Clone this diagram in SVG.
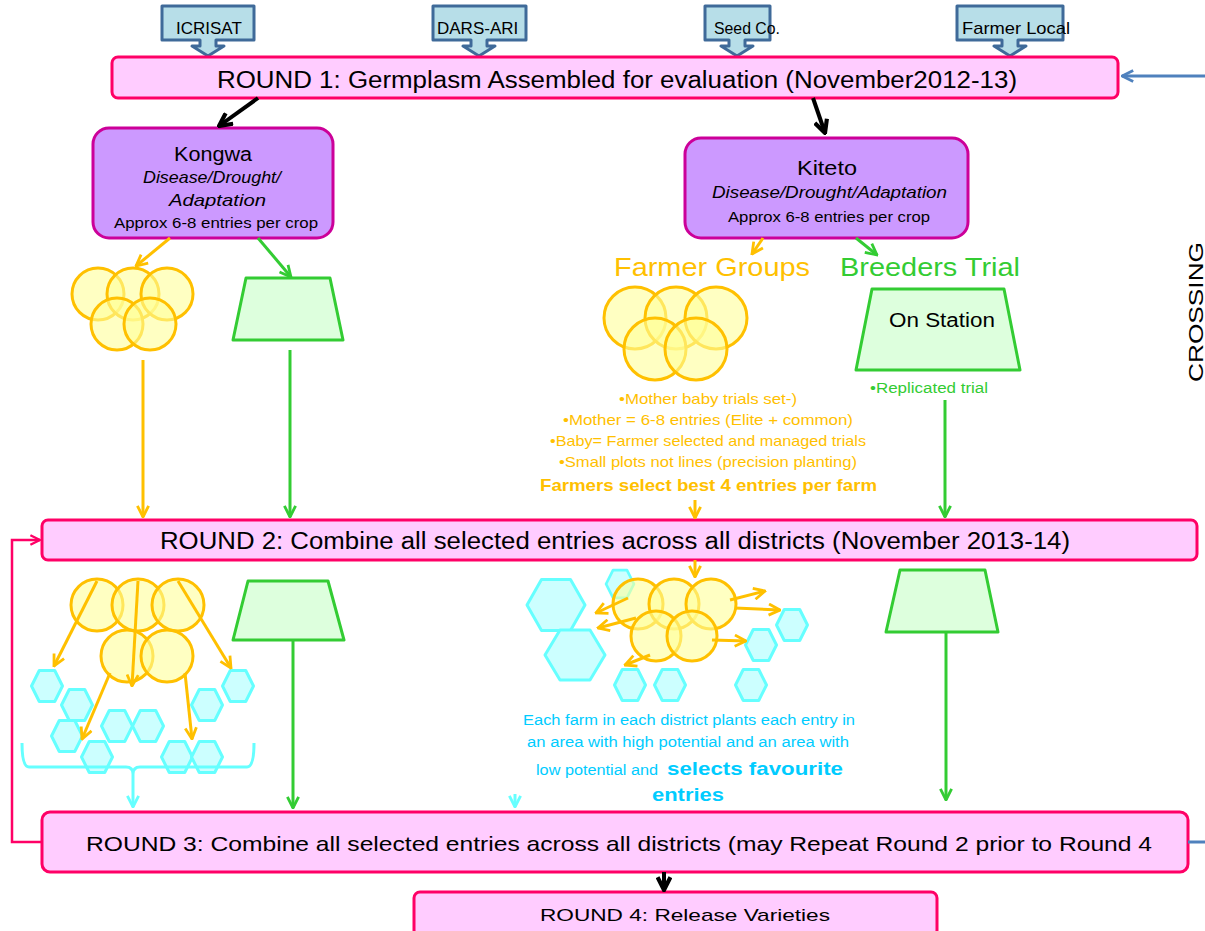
<svg xmlns="http://www.w3.org/2000/svg" xmlns:xlink="http://www.w3.org/1999/xlink" width="1205" height="931" viewBox="0 0 1205 931">
<style>
text{font-family:"Liberation Sans",Arial,sans-serif;}
.bar{fill:#FFCCFF;stroke:#FF0066;stroke-width:3;}
.site{fill:#CC99FF;stroke:#CC0099;stroke-width:3;}
.src{fill:#B7DEE8;stroke:#3F6A99;stroke-width:3;stroke-linejoin:round;}
.circ{fill:#FFFF99;fill-opacity:0.6;stroke:#FFC000;stroke-width:3;}
.hex{fill:#CCFFFF;stroke:#66FFFF;stroke-width:3;stroke-linejoin:round;}
.trap{fill:#DDFFDD;stroke:#33CC33;stroke-width:3;stroke-linejoin:round;}
.blk{stroke:#000;stroke-width:4;fill:none;}
.org{stroke:#FFC000;stroke-width:3;fill:none;}
.grn{stroke:#33CC33;stroke-width:3;fill:none;}
.cyn{stroke:#66FFFF;stroke-width:3;fill:none;}
.pnk{stroke:#FF0066;stroke-width:2.5;fill:none;}
.blu{stroke:#4F81BD;stroke-width:3;fill:none;}
.ot{fill:#FFC000;}
.gt{fill:#33CC33;}
.ct{fill:#00CCFF;}
</style>
<defs>
<marker id="mBlk" viewBox="0 0 10 10" refX="9" refY="5" markerWidth="16" markerHeight="16" markerUnits="userSpaceOnUse" orient="auto"><path d="M1,1 L9,5 L1,9" fill="none" stroke="#000" stroke-width="2.6"/></marker>
<marker id="mOrg" viewBox="0 0 10 10" refX="9" refY="5" markerWidth="14" markerHeight="14" markerUnits="userSpaceOnUse" orient="auto"><path d="M1,1 L9,5 L1,9" fill="none" stroke="#FFC000" stroke-width="2"/></marker>
<marker id="mGrn" viewBox="0 0 10 10" refX="9" refY="5" markerWidth="14" markerHeight="14" markerUnits="userSpaceOnUse" orient="auto"><path d="M1,1 L9,5 L1,9" fill="none" stroke="#33CC33" stroke-width="2"/></marker>
<marker id="mCyn" viewBox="0 0 10 10" refX="9" refY="5" markerWidth="14" markerHeight="14" markerUnits="userSpaceOnUse" orient="auto"><path d="M1,1 L9,5 L1,9" fill="none" stroke="#66FFFF" stroke-width="2"/></marker>
<marker id="mPnk" viewBox="0 0 10 10" refX="9" refY="5" markerWidth="12" markerHeight="12" markerUnits="userSpaceOnUse" orient="auto"><path d="M1,1 L9,5 L1,9" fill="none" stroke="#FF0066" stroke-width="2"/></marker>
<marker id="mBlu" viewBox="0 0 10 10" refX="9" refY="5" markerWidth="14" markerHeight="14" markerUnits="userSpaceOnUse" orient="auto"><path d="M1,1 L9,5 L1,9" fill="none" stroke="#4F81BD" stroke-width="2"/></marker>
<polygon id="hx" points="-15.5,0 -7.75,-15.5 7.75,-15.5 15.5,0 7.75,15.5 -7.75,15.5"/>
</defs>

<!-- sources -->
<g id="src-icrisat">
<path class="src" d="M162,6 H254 V40 H216 V46 H224 L208,56 L192,46 H200 V40 H162 Z"/>
<text x="176" y="34" font-size="17">ICRISAT</text>
</g>
<g id="src-dars">
<path class="src" d="M433,6 H526 V40 H487 V46 H495 L479,56 L463,46 H471 V40 H433 Z"/>
<text x="437" y="34" font-size="17">DARS-ARI</text>
</g>
<g id="src-seedco">
<path class="src" d="M705,6 H770 V40 H745 V46 H753 L737,56 L721,46 H729 V40 H705 Z"/>
<text x="714" y="34" font-size="17" textLength="66" lengthAdjust="spacingAndGlyphs">Seed Co.</text>
</g>
<g id="src-farmerlocal">
<path class="src" d="M957,6 H1063 V40 H1018 V46 H1026 L1010,56 L994,46 H1002 V40 H957 Z"/>
<text x="962" y="34" font-size="17" textLength="108" lengthAdjust="spacingAndGlyphs">Farmer Local</text>
</g>

<!-- round 1 -->
<g id="round1">
<rect class="bar" x="112" y="57" width="1006" height="41" rx="6"/>
<text x="217" y="88" font-size="23" textLength="800" lengthAdjust="spacingAndGlyphs">ROUND 1: Germplasm Assembled for evaluation (November2012-13)</text>
</g>

<!-- sites -->
<g id="kongwa">
<rect class="site" x="93" y="128" width="240" height="110" rx="16"/>
<text x="174" y="161" font-size="20" textLength="78" lengthAdjust="spacingAndGlyphs">Kongwa</text>
<text x="143" y="183" font-size="17" font-style="italic" textLength="138" lengthAdjust="spacingAndGlyphs">Disease/Drought/</text>
<text x="169" y="206" font-size="17" font-style="italic" textLength="97" lengthAdjust="spacingAndGlyphs">Adaptation</text>
<text x="114" y="228" font-size="14" textLength="204" lengthAdjust="spacingAndGlyphs">Approx 6-8 entries per crop</text>
</g>
<g id="kiteto">
<rect class="site" x="685" y="138" width="283" height="100" rx="16"/>
<text x="797" y="175" font-size="20" textLength="60" lengthAdjust="spacingAndGlyphs">Kiteto</text>
<text x="712" y="198" font-size="17" font-style="italic" textLength="235" lengthAdjust="spacingAndGlyphs">Disease/Drought/Adaptation</text>
<text x="728" y="222" font-size="14" textLength="202" lengthAdjust="spacingAndGlyphs">Approx 6-8 entries per crop</text>
</g>

<!-- round 1 field stage -->
<g id="kongwa-farmer-groups">
<circle class="circ" cx="98" cy="294" r="26"/>
<circle class="circ" cx="133" cy="294" r="26"/>
<circle class="circ" cx="167" cy="294" r="26"/>
<circle class="circ" cx="117" cy="324" r="26"/>
<circle class="circ" cx="150" cy="324" r="26"/>
</g>
<g id="kongwa-breeders-trial">
<polygon class="trap" points="246,278 330,278 343,340 233,340"/>
</g>
<g id="kiteto-farmer-groups">
<text x="614" y="276" font-size="25" class="ot" textLength="196" lengthAdjust="spacingAndGlyphs">Farmer Groups</text>
<circle class="circ" cx="635" cy="318" r="31"/>
<circle class="circ" cx="676" cy="318" r="31"/>
<circle class="circ" cx="716" cy="318" r="31"/>
<circle class="circ" cx="655" cy="349" r="31"/>
<circle class="circ" cx="696" cy="349" r="31"/>
<g font-size="15" class="ot">
<text x="619" y="404" textLength="178" lengthAdjust="spacingAndGlyphs">•Mother baby trials set-)</text>
<text x="563" y="425" textLength="290" lengthAdjust="spacingAndGlyphs">•Mother = 6-8 entries (Elite + common)</text>
<text x="550" y="446" textLength="316" lengthAdjust="spacingAndGlyphs">•Baby= Farmer selected and managed trials</text>
<text x="559" y="467" textLength="298" lengthAdjust="spacingAndGlyphs">•Small plots not lines (precision planting)</text>
</g>
<text x="540" y="491" font-size="17" font-weight="bold" class="ot" textLength="337" lengthAdjust="spacingAndGlyphs">Farmers select best 4 entries per farm</text>
</g>
<g id="kiteto-breeders-trial">
<text x="840" y="276" font-size="25" class="gt" textLength="180" lengthAdjust="spacingAndGlyphs">Breeders Trial</text>
<polygon class="trap" points="872,289 1004,289 1020,370 856,370"/>
<text x="889" y="327" font-size="20" textLength="106" lengthAdjust="spacingAndGlyphs">On Station</text>
<text x="870" y="393" font-size="14" class="gt" textLength="118" lengthAdjust="spacingAndGlyphs">•Replicated trial</text>
</g>

<!-- round 2 -->
<g id="round2">
<rect class="bar" x="42" y="520" width="1155" height="40" rx="6"/>
<text x="160" y="549" font-size="23" textLength="910" lengthAdjust="spacingAndGlyphs">ROUND 2: Combine all selected entries across all districts (November 2013-14)</text>
</g>

<!-- round 2 field stage -->
<g id="r2-left-groups">
<circle class="circ" cx="97" cy="605" r="26"/>
<circle class="circ" cx="138" cy="605" r="26"/>
<circle class="circ" cx="178" cy="605" r="26"/>
<circle class="circ" cx="127" cy="656" r="26"/>
<circle class="circ" cx="167" cy="656" r="26"/>
<use href="#hx" class="hex" x="47" y="686"/>
<use href="#hx" class="hex" x="77" y="705"/>
<use href="#hx" class="hex" x="67" y="736"/>
<use href="#hx" class="hex" x="97" y="757"/>
<use href="#hx" class="hex" x="117" y="726"/>
<use href="#hx" class="hex" x="148" y="726"/>
<use href="#hx" class="hex" x="207" y="705"/>
<use href="#hx" class="hex" x="238" y="686"/>
<use href="#hx" class="hex" x="177" y="757"/>
<use href="#hx" class="hex" x="207" y="757"/>
</g>
<g id="r2-left-trial">
<polygon class="trap" points="248,581 328,581 344,640 233,640"/>
</g>
<g id="r2-mid-groups">
<polygon class="hex" points="527,605 541.5,579.5 570.5,579.5 585,605 570.5,630.5 541.5,630.5"/>
<polygon class="hex" points="545,655 560,630 590,630 605,655 590,680 560,680"/>
<use href="#hx" class="hex" transform="translate(620,584) scale(0.9)"/>
<use href="#hx" class="hex" x="630" y="685"/>
<use href="#hx" class="hex" x="670" y="685"/>
<use href="#hx" class="hex" x="751" y="685"/>
<use href="#hx" class="hex" x="761" y="645"/>
<use href="#hx" class="hex" x="792" y="625"/>
<circle class="circ" cx="638" cy="604" r="25"/>
<circle class="circ" cx="674" cy="604" r="25"/>
<circle class="circ" cx="711" cy="604" r="25"/>
<circle class="circ" cx="656" cy="636" r="25"/>
<circle class="circ" cx="692" cy="636" r="25"/>
<g class="ct" font-size="14">
<text x="523" y="725" textLength="332" lengthAdjust="spacingAndGlyphs">Each farm in each district plants each entry in</text>
<text x="527" y="747" textLength="322" lengthAdjust="spacingAndGlyphs">an area with high potential and an area with</text>
<text x="536" y="775" textLength="122" lengthAdjust="spacingAndGlyphs">low potential and</text>
</g>
<text x="667" y="775" font-size="19" font-weight="bold" class="ct" textLength="176" lengthAdjust="spacingAndGlyphs">selects favourite</text>
<text x="652" y="801" font-size="19" font-weight="bold" class="ct" textLength="72" lengthAdjust="spacingAndGlyphs">entries</text>
</g>
<g id="r2-right-trial">
<polygon class="trap" points="900,570 985,570 998,632 886,632"/>
</g>

<!-- round 3 -->
<g id="round3">
<rect class="bar" x="42" y="812" width="1146" height="60" rx="8"/>
<text x="86" y="851" font-size="21" textLength="1066" lengthAdjust="spacingAndGlyphs">ROUND 3: Combine all selected entries across all districts (may Repeat Round 2 prior to Round 4</text>
</g>
<!-- round 4 -->
<g id="round4">
<rect class="bar" x="414" y="892" width="523" height="44" rx="6"/>
<text x="540" y="921" font-size="17" textLength="290" lengthAdjust="spacingAndGlyphs">ROUND 4: Release Varieties</text>
</g>

<g id="crossing">
<text transform="translate(1203,382) rotate(-90)" font-size="21" textLength="140" lengthAdjust="spacingAndGlyphs">CROSSING</text>
</g>

<!-- connectors -->
<g id="connectors">
<line class="blk" x1="258" y1="98" x2="219" y2="126" marker-end="url(#mBlk)"/>
<line class="blk" x1="813" y1="98" x2="825" y2="133" marker-end="url(#mBlk)"/>
<line class="blk" x1="664" y1="872" x2="664" y2="890" marker-end="url(#mBlk)"/>
<line class="blu" x1="1205" y1="76" x2="1122" y2="76" marker-end="url(#mBlu)"/>
<line class="blu" x1="1188" y1="842" x2="1205" y2="842"/>
<path class="pnk" d="M42,842 H12 V540 H40" marker-end="url(#mPnk)"/>

<line class="org" x1="170" y1="238" x2="136" y2="266" marker-end="url(#mOrg)"/>
<line class="grn" x1="258" y1="238" x2="291" y2="277" marker-end="url(#mGrn)"/>
<line class="org" x1="763" y1="238" x2="752" y2="254" marker-end="url(#mOrg)"/>
<line class="grn" x1="856" y1="238" x2="877" y2="255" marker-end="url(#mGrn)"/>

<line class="org" x1="143" y1="360" x2="143" y2="517" marker-end="url(#mOrg)"/>
<line class="grn" x1="290" y1="350" x2="290" y2="517" marker-end="url(#mGrn)"/>
<line class="org" x1="695" y1="500" x2="695" y2="518" marker-end="url(#mOrg)"/>
<line class="grn" x1="945" y1="400" x2="945" y2="517" marker-end="url(#mGrn)"/>

<line class="org" x1="695" y1="560" x2="695" y2="577" marker-end="url(#mOrg)"/>
<line class="org" x1="97" y1="581" x2="54" y2="666" marker-end="url(#mOrg)"/>
<line class="org" x1="138" y1="581" x2="132" y2="686" marker-end="url(#mOrg)" stroke="#FFD633"/>
<line class="org" x1="178" y1="581" x2="231" y2="668" marker-end="url(#mOrg)"/>
<line class="org" x1="110" y1="673" x2="82" y2="739" marker-end="url(#mOrg)"/>
<line class="org" x1="185" y1="673" x2="192" y2="739" marker-end="url(#mOrg)"/>

<line class="org" x1="628" y1="598" x2="596" y2="613" marker-end="url(#mOrg)"/>
<line class="org" x1="636" y1="618" x2="598" y2="628" marker-end="url(#mOrg)"/>
<line class="org" x1="730" y1="600" x2="765" y2="591" marker-end="url(#mOrg)"/>
<line class="org" x1="735" y1="608" x2="780" y2="610" marker-end="url(#mOrg)"/>
<line class="org" x1="712" y1="640" x2="746" y2="641" marker-end="url(#mOrg)"/>
<line class="org" x1="650" y1="655" x2="625" y2="665" marker-end="url(#mOrg)"/>

<path class="cyn" d="M22,743 Q22,767 29,767 H126 Q133,767 133,774 Q133,767 140,767 H247 Q254,767 254,743"/>
<line class="cyn" x1="133" y1="774" x2="133" y2="807" marker-end="url(#mCyn)"/>
<line class="cyn" x1="515" y1="794" x2="515" y2="807" marker-end="url(#mCyn)"/>
<line class="grn" x1="293" y1="640" x2="293" y2="808" marker-end="url(#mGrn)"/>
<line class="grn" x1="946" y1="632" x2="946" y2="800" marker-end="url(#mGrn)"/>
</g>
</svg>
